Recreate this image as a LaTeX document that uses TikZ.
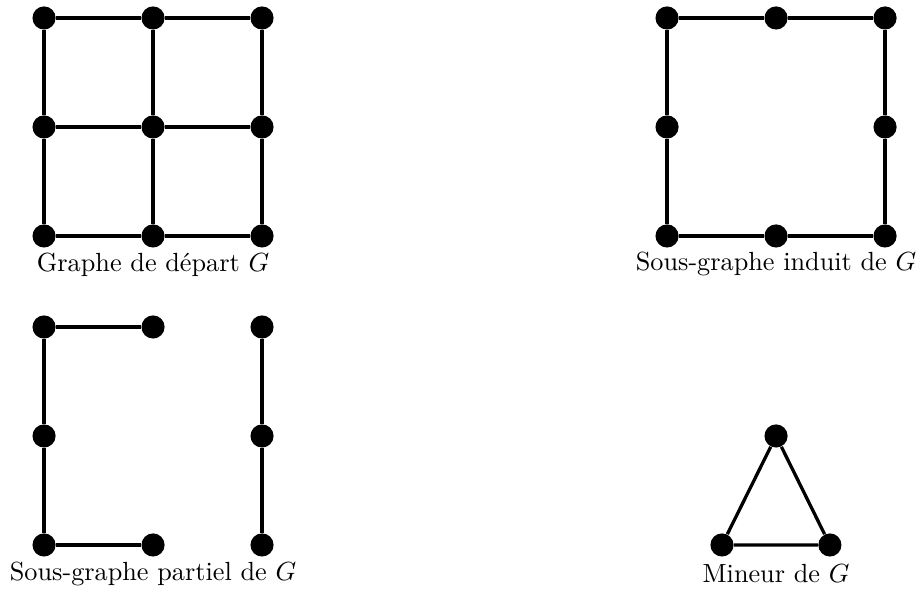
\documentclass[tikz,border=0pt]{standalone}
\usepackage{tikz}
\usetikzlibrary{positioning}

\begin{document}
\begin{tikzpicture}[
        x=1.46cm, y=1.46cm,
        dot/.style={circle, fill=black, inner sep=0pt, minimum size=0.31cm},
        edge/.style={line width=1.25pt},
        caption/.style={font=\normalsize},
    ]
        \useasboundingbox (-0.404,0.165) rectangle (8.046,-5.349);

        % --- Graphe de depart ---
        \node[dot] (g11) at (0,0)  {};
        \node[dot] (g12) at (1,0)  {};
        \node[dot] (g13) at (2,0)  {};
        \node[dot] (g21) at (0,-1) {};
        \node[dot] (g22) at (1,-1) {};
        \node[dot] (g23) at (2,-1) {};
        \node[dot] (g31) at (0,-2) {};
        \node[dot] (g32) at (1,-2) {};
        \node[dot] (g33) at (2,-2) {};
        \draw[edge] (g11) -- (g12) -- (g13);
        \draw[edge] (g21) -- (g22) -- (g23);
        \draw[edge] (g31) -- (g32) -- (g33);
        \draw[edge] (g11) -- (g21) -- (g31);
        \draw[edge] (g12) -- (g22) -- (g32);
        \draw[edge] (g13) -- (g23) -- (g33);
        \node[caption] (capg) at (1,-2.26) {Graphe de départ $G$};

        % --- Sous-graphe induit ---
        \node[dot] (i11) at (5.716,0)  {};
        \node[dot] (i12) at (6.716,0)  {};
        \node[dot] (i13) at (7.716,0)  {};
        \node[dot] (i21) at (5.716,-1) {};
        \node[dot] (i23) at (7.716,-1) {};
        \node[dot] (i31) at (5.716,-2) {};
        \node[dot] (i32) at (6.716,-2) {};
        \node[dot] (i33) at (7.716,-2) {};
        \draw[edge] (i11) -- (i12) -- (i13) -- (i23) -- (i33) -- (i32) -- (i31) -- (i21) -- (i11);
        \node[caption] (capi) at (6.716,-2.26) {Sous-graphe induit de $G$};

        % --- Sous-graphe partiel ---
        \node[dot] (p11) at (0,-2.835) {};
        \node[dot] (p12) at (1,-2.835) {};
        \node[dot] (p13) at (2,-2.835) {};
        \node[dot] (p21) at (0,-3.835) {};
        \node[dot] (p23) at (2,-3.835) {};
        \node[dot] (p31) at (0,-4.835) {};
        \node[dot] (p32) at (1,-4.835) {};
        \node[dot] (p33) at (2,-4.835) {};
        \draw[edge] (p12) -- (p11) -- (p21) -- (p31) -- (p32);
        \draw[edge] (p13) -- (p23) -- (p33);
        \node[caption] (capp) at (1,-5.1) {Sous-graphe partiel de $G$};

        % --- Mineur ---
        \node[dot] (m1) at (6.716,-3.835) {};
        \node[dot] (m2) at (6.22,-4.835)  {};
        \node[dot] (m3) at (7.21,-4.835)  {};
        \draw[edge] (m1) -- (m2) -- (m3) -- (m1);
        \node[caption] (capm) at (6.716,-5.1) {Mineur de $G$};
    \end{tikzpicture}
\end{document}
